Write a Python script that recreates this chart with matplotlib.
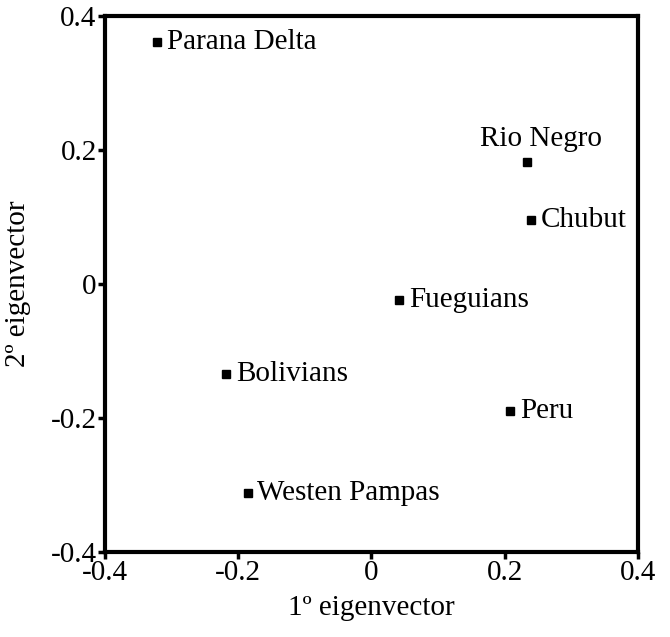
import matplotlib
matplotlib.use('Agg')
import matplotlib.pyplot as plt

# PCA scores (first two eigenvectors)
groups = ['Parana Delta', 'Rio Negro', 'Chubut', 'Fueguians',
          'Bolivians', 'Peru', 'Westen Pampas']
ev1 = [-0.322, 0.234, 0.240, 0.042, -0.218, 0.208, -0.186]
ev2 = [0.361, 0.182, 0.095, -0.024, -0.134, -0.190, -0.312]
ticks = [-0.4, -0.2, 0, 0.2, 0.4]
tick_labels = ['-0.4', '-0.2', '0', '0.2', '0.4']

plt.rcParams['font.family'] = ['Liberation Serif', 'DejaVu Serif']
fs = 21

fig = plt.figure(figsize=(6.7, 6.37), dpi=100)
ax = fig.add_axes([0.1567, 0.1334, 0.7955, 0.8415])

ax.plot(ev1, ev2, 's', color='black', markersize=6, linestyle='none')

for name, x, y in zip(groups, ev1, ev2):
    if name == 'Rio Negro':
        ax.annotate(name, (x, y), xytext=(-34, 7), textcoords='offset points',
                    fontsize=fs, va='bottom', ha='left')
    else:
        ax.annotate(name, (x, y), xytext=(7, 0), textcoords='offset points',
                    fontsize=fs, va='center', ha='left')

ax.set_xlim(-0.4, 0.4)
ax.set_ylim(-0.4, 0.4)
ax.set_xticks(ticks)
ax.set_xticklabels(tick_labels)
ax.set_yticks(ticks)
ax.set_yticklabels(tick_labels)
ax.tick_params(direction='out', length=5, width=2.5, labelsize=fs, pad=1)
for s in ax.spines.values():
    s.set_linewidth(3)

ax.set_xlabel('1º eigenvector', fontsize=fs, labelpad=6)
ax.set_ylabel('2º eigenvector', fontsize=fs, labelpad=14)

fig.savefig('out.png', dpi=100)
